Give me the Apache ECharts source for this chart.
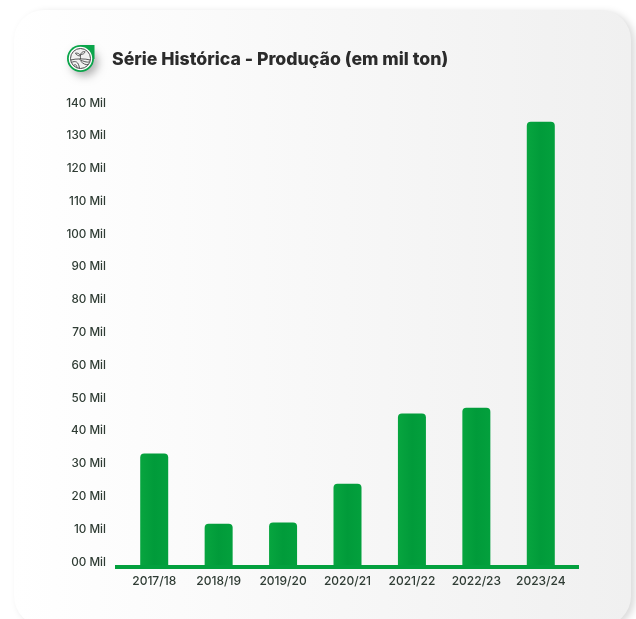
<!DOCTYPE html>
<html>
<head>
<meta charset="utf-8">
<style>html,body{margin:0;padding:0;background:#fff}#c{width:636px;height:619px}</style>
<script src="https://cdn.jsdelivr.net/npm/echarts@6/dist/echarts.min.js"></script>
</head>
<body>
<div id="c"></div>
<script>
// Produção por safra, em mil toneladas
const safras = ['2017/18','2018/19','2019/20','2020/21','2021/22','2022/23','2023/24'];
const producao = [34, 12.6, 13, 24.8, 46.2, 48, 135.2];
const escalaMax = 140;
const escalaPasso = 10;
const titulo = 'Série Histórica - Produção (em mil ton)';

const chart = echarts.init(document.getElementById('c'), null, {renderer:'canvas'});
const FONT = 'Inter, "Open Sans", sans-serif';

const fmt = v => (v === 0 ? '00' : String(v)) + ' Mil';

// Selo do título: gota verde com ícone de lavoura
const cx = 80.5, cy = 58.5;
const traco = {fill:'none', stroke:'#4a4a4a', lineWidth:0.9};
const curva = (x1,y1,cpx1,cpy1,cpx2,cpy2,x2,y2) => ({
  type:'bezierCurve',
  shape:{x1:cx+x1,y1:cy+y1,cpx1:cx+cpx1,cpy1:cy+cpy1,cpx2:cx+cpx2,cpy2:cy+cpy2,x2:cx+x2,y2:cy+y2},
  style:traco
});
const selo = [
  {type:'circle', shape:{cx:cx, cy:cy, r:13.5}, style:{fill:'#0aa54a', shadowBlur:9, shadowColor:'rgba(0,0,0,0.3)', shadowOffsetX:4, shadowOffsetY:4}},
  {type:'rect', shape:{x:cx, y:cy-13.5, width:14, height:14}, style:{fill:'#0aa54a'}},
  {type:'circle', shape:{cx:cx, cy:cy, r:11.7}, style:{fill:'#fff'}},
  {type:'circle', shape:{cx:cx, cy:cy, r:10}, style:{fill:'#f1f1f1', stroke:'#4a4a4a', lineWidth:1}},
  // horizonte e curvas do terreno
  curva(-9.8,1.5,-5,0,5,0,9.8,1.5),
  curva(-9.2,4,-5,2,-2,3,-1,9.8),
  curva(-7,7,-5,5.5,-4,6,-3.5,9.3),
  curva(-1,1,3,3,6,4,9.2,3.5),
  curva(0,2.5,3,5.5,5,6.5,7.5,6),
  // broto
  curva(0,0.5,0,-1,0,-3,0,-4),
  curva(0,-2.5,-1,-5.5,-4,-5.5,-5,-5.5),
  curva(-5,-5.5,-4.5,-3.5,-2,-2.5,0,-2.5),
  curva(0,-4,1,-7,4,-7,4.5,-7),
  curva(4.5,-7,4.5,-5,2,-4,0,-4)
];

chart.setOption({
  animation:false,
  backgroundColor:'#fff',
  graphic:{elements:[
    {type:'rect', z:-10, silent:true,
     shape:{x:14, y:10, width:617, height:616, r:30},
     style:{
       fill:new echarts.graphic.LinearGradient(0,0,1,0,[{offset:0,color:'#ffffff'},{offset:1,color:'#f0f0f0'}]),
       shadowBlur:7, shadowColor:'rgba(0,0,0,0.14)', shadowOffsetX:4, shadowOffsetY:2
     }},
    {type:'rect', z:5, silent:true, shape:{x:115, y:565, width:464, height:4}, style:{fill:'#03a03e'}},
    ...selo.map(e => Object.assign({z:5, silent:true}, e)),
    {type:'text', z:5, x:112, y:51, style:{text:titulo, font:'800 17.7px '+FONT, fill:'#2b2b2b'}}
  ]},
  grid:{left:122, right:63, top:106, bottom:54},
  xAxis:{
    type:'category', data:safras,
    axisLine:{show:false}, axisTick:{show:false},
    axisLabel:{color:'#2f3c34', fontFamily:FONT, fontSize:12, fontWeight:500, margin:10, interval:0}
  },
  yAxis:{
    type:'value', min:0, max:escalaMax, interval:escalaPasso,
    splitLine:{show:false}, axisLine:{show:false}, axisTick:{show:false},
    axisLabel:{color:'#2f3c34', fontFamily:FONT, fontSize:11.7, fontWeight:500, margin:16, align:'right', verticalAlign:'bottom', lineHeight:6, formatter:fmt}
  },
  series:[{
    type:'bar', data:producao, barWidth:28,
    itemStyle:{
      borderRadius:[4,4,0,0],
      color:new echarts.graphic.LinearGradient(0,0,1,0,[{offset:0,color:'#07a53f'},{offset:0.5,color:'#019b3a'},{offset:1,color:'#03a03d'}])
    }
  }]
});
</script>
</body>
</html>
